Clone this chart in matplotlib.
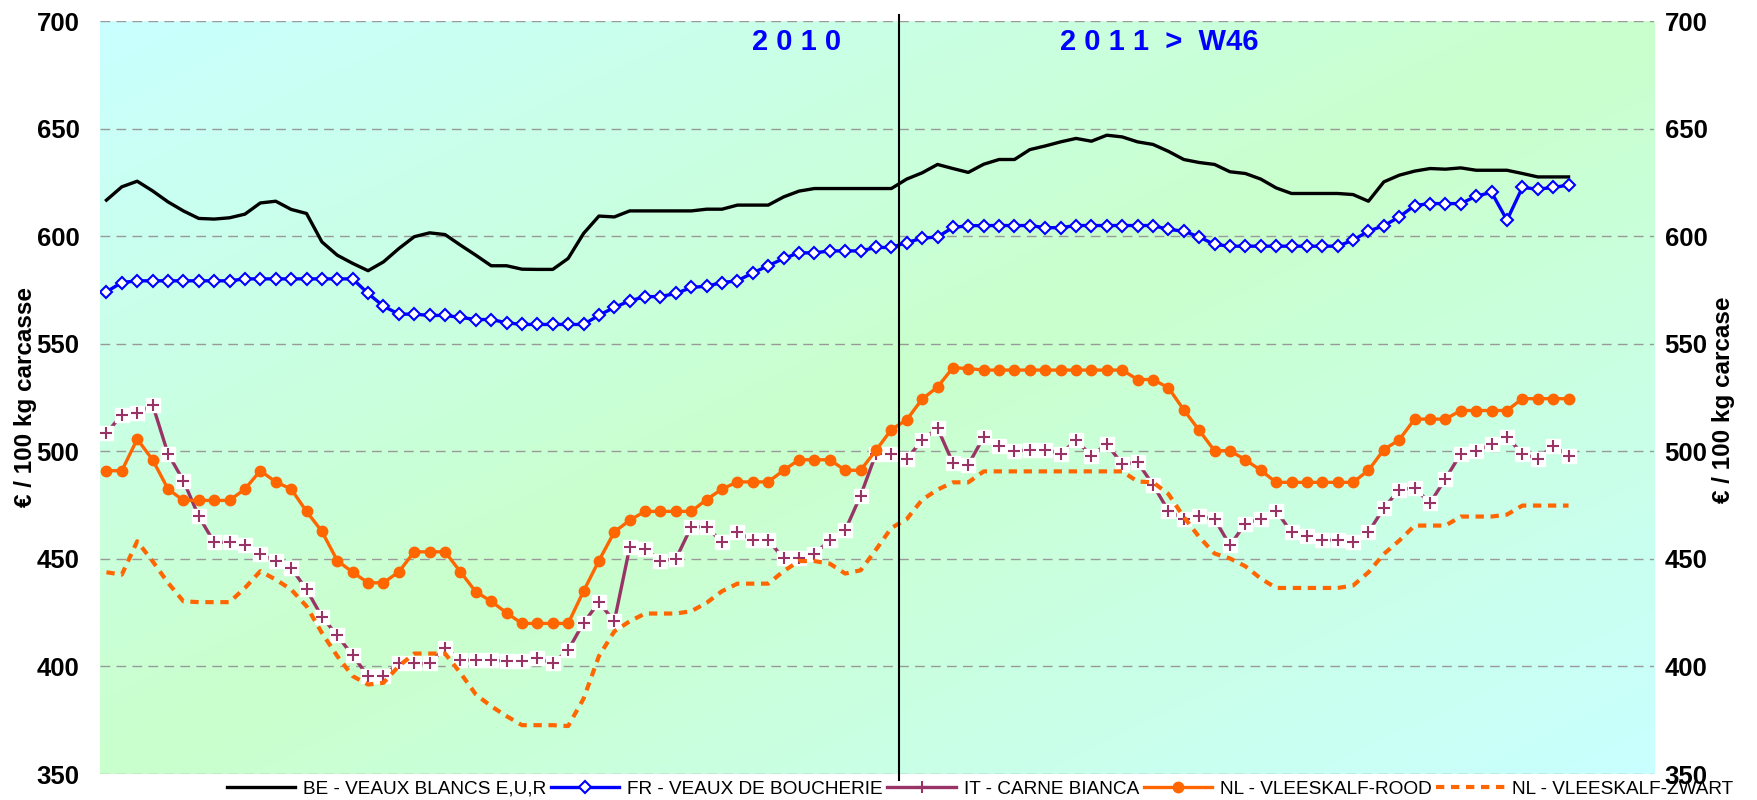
import numpy as np
import matplotlib.pyplot as plt
from matplotlib.lines import Line2D

plt.rcParams['font.family'] = ['Liberation Sans', 'DejaVu Sans']

# weekly prices, 2010 W1 .. 2011 (52 + 44 weeks), EUR / 100 kg carcass
be_veaux_blancs = [
    616.8, 623.0, 625.6, 621.1, 616.0, 611.8, 608.3, 608.0, 608.6, 610.3,
    615.5, 616.3, 612.5, 610.6, 597.4, 591.2, 587.4, 584.0, 588.1, 594.3,
    599.8, 601.6, 600.8, 595.9, 591.2, 586.3, 586.3, 584.7, 584.6, 584.6,
    589.7, 601.3, 609.4, 609.0, 611.8, 611.8, 611.8, 611.8, 611.8, 612.6,
    612.6, 614.5, 614.5, 614.5, 618.3, 621.0, 622.2, 622.2, 622.2, 622.2,
    622.2, 622.2, 626.6, 629.5, 633.4, 631.5, 629.7, 633.5, 635.7, 635.7,
    640.3, 642.0, 643.9, 645.5, 644.2, 647.0, 646.2, 643.9, 642.7, 639.5,
    635.7, 634.3, 633.4, 630.0, 629.2, 626.6, 622.5, 619.9, 619.9, 619.9,
    619.9, 619.4, 616.3, 625.3, 628.4, 630.3, 631.5, 631.2, 631.8, 630.7,
    630.7, 630.7, 629.2, 627.6, 627.6, 627.6]

fr_veaux_boucherie = [
    574.2, 578.5, 579.3, 579.3, 579.3, 579.3, 579.3, 579.3, 579.3, 580.2,
    580.2, 580.2, 580.2, 580.2, 580.2, 580.2, 580.2, 573.4, 567.5, 563.8,
    563.8, 563.2, 563.2, 562.3, 561.3, 561.3, 559.8, 559.0, 559.0, 559.0,
    559.0, 559.0, 563.3, 566.9, 570.0, 571.9, 572.0, 573.4, 576.2, 576.8,
    578.5, 579.3, 583.0, 586.3, 589.7, 592.3, 592.3, 593.2, 593.2, 593.2,
    594.8, 594.8, 597.1, 599.1, 599.7, 604.1, 604.9, 605.0, 605.0, 605.0,
    605.0, 604.0, 604.0, 605.0, 605.0, 605.0, 605.0, 605.0, 605.0, 603.2,
    602.4, 599.7, 596.2, 595.4, 595.4, 595.4, 595.4, 595.4, 595.4, 595.4,
    595.4, 598.2, 602.4, 604.9, 609.0, 614.3, 615.2, 615.2, 615.2, 618.7,
    620.4, 607.5, 622.7, 621.9, 622.7, 623.8]

it_carne_bianca = [
    508.5, 517.0, 517.8, 521.7, 498.9, 486.4, 469.8, 457.7, 457.7, 456.3,
    452.2, 449.2, 445.8, 435.8, 423.1, 414.4, 405.1, 395.5, 395.5, 401.4,
    401.4, 401.4, 408.7, 402.9, 402.9, 402.9, 402.5, 402.5, 404.0, 401.4,
    407.6, 420.3, 429.8, 421.0, 455.4, 454.6, 449.2, 450.0, 464.9, 464.9,
    457.7, 462.4, 458.7, 458.7, 450.2, 450.2, 452.3, 458.7, 463.3, 479.4,
    498.9, 498.9, 496.6, 505.1, 510.8, 494.6, 493.8, 506.7, 502.3, 500.0,
    500.8, 500.8, 498.9, 505.1, 498.0, 503.4, 494.1, 494.9, 484.5, 472.4,
    468.7, 469.8, 468.6, 456.3, 466.4, 468.7, 472.4, 462.4, 460.5, 458.7,
    458.7, 457.7, 462.4, 473.7, 482.2, 483.0, 476.0, 487.2, 498.9, 500.0,
    503.4, 506.7, 498.9, 496.6, 502.6, 498.0]

nl_vleeskalf_rood = [
    491.0, 491.0, 505.7, 496.1, 482.5, 477.2, 477.2, 477.2, 477.2, 482.5,
    491.0, 485.8, 482.5, 472.1, 462.8, 449.2, 443.8, 438.9, 438.9, 444.0,
    453.3, 453.3, 453.3, 444.0, 434.7, 430.3, 424.9, 420.0, 420.0, 420.0,
    420.0, 435.0, 449.2, 462.5, 468.0, 472.1, 472.1, 472.1, 472.1, 477.6,
    482.5, 485.8, 485.8, 485.8, 491.2, 496.1, 496.1, 496.1, 491.2, 491.2,
    500.5, 510.1, 514.7, 524.3, 529.9, 538.9, 538.5, 537.8, 537.8, 537.8,
    537.8, 537.8, 537.8, 537.8, 537.8, 537.8, 537.8, 533.4, 533.4, 529.6,
    519.3, 509.8, 500.3, 500.3, 496.1, 491.2, 485.6, 485.6, 485.6, 485.6,
    485.6, 485.6, 491.2, 500.8, 505.4, 515.0, 515.0, 515.0, 519.0, 519.0,
    519.0, 519.0, 524.5, 524.5, 524.5, 524.5]

nl_vleeskalf_zwart = [
    443.8, 442.7, 458.2, 448.9, 438.9, 430.3, 429.9, 429.9, 429.9, 436.5,
    444.3, 440.4, 435.8, 428.0, 415.6, 404.8, 395.5, 391.6, 392.4, 400.2,
    406.0, 406.0, 406.0, 397.0, 387.0, 381.5, 376.9, 372.7, 372.7, 372.7,
    372.3, 385.0, 404.8, 416.3, 421.0, 424.6, 424.6, 424.6, 425.7, 429.6,
    435.0, 438.5, 438.5, 438.5, 444.3, 449.0, 449.0, 447.8, 443.2, 444.7,
    454.3, 464.4, 468.5, 477.5, 482.2, 485.6, 485.6, 490.7, 490.7, 490.7,
    490.7, 490.7, 490.7, 490.7, 490.7, 490.7, 490.7, 486.0, 485.6, 480.2,
    469.5, 460.2, 452.5, 450.2, 446.6, 440.9, 436.5, 436.5, 436.5, 436.5,
    436.5, 437.6, 443.8, 452.3, 458.5, 465.5, 465.5, 465.5, 469.7, 469.7,
    469.7, 470.6, 474.8, 474.8, 474.8, 474.8]

weeks_2010 = 52
year_labels = ['2 0 1 0', '2 0 1 1  >  W46']
names = ['BE - VEAUX BLANCS E,U,R', 'FR - VEAUX DE BOUCHERIE', 'IT - CARNE BIANCA',
         'NL - VLEESKALF-ROOD', 'NL - VLEESKALF-ZWART']
yticks = [350, 400, 450, 500, 550, 600, 650, 700]

x = np.arange(len(be_veaux_blancs))

fig = plt.figure(figsize=(17.58, 8), dpi=100)
ax = fig.add_axes([0.0566, 0.0325, 0.8843, 0.941])

# diagonal gradient background: cyan corners, pale green band
gx, gy = np.meshgrid(np.linspace(0, 1, 400), np.linspace(1, 0, 200))
t = np.abs(gx - gy)
bg = np.zeros(gx.shape + (3,))
bg[..., 0] = 0.79
bg[..., 1] = 1.0
bg[..., 2] = 0.80 + 0.20 * t
ax.imshow(bg, extent=[0, 1, 0, 1], transform=ax.transAxes, aspect='auto', zorder=-2)

purple = '#993366'
orange = '#FF6600'
blue = '#0000FF'
lw = 2.4
dash = (0, (2.0, 1.6))

ax.plot(x, be_veaux_blancs, color='black', lw=lw, zorder=3)
ax.plot(x, fr_veaux_boucherie, color=blue, lw=lw, marker='D', ms=6, mfc='white',
        mec=blue, mew=1.5, zorder=3)
ax.plot(x, it_carne_bianca, color=purple, lw=lw, zorder=3)
ax.plot(x, it_carne_bianca, ls='none', marker='s', ms=10, mfc='white', mec='white', zorder=3)
ax.plot(x, it_carne_bianca, ls='none', marker='+', ms=8, mew=1.5, color=purple, zorder=3)
ax.plot(x, nl_vleeskalf_rood, color=orange, lw=lw, marker='o', ms=7.5, mfc=orange,
        mec=orange, zorder=4)
ax.plot(x, nl_vleeskalf_zwart, color=orange, lw=3.0, ls=dash, zorder=4)

ax.axvline(weeks_2010 - 0.5, ymin=-0.008, ymax=1.008, color='black', lw=1.5,
           clip_on=False, zorder=6)

ax.set_xlim(-0.45, 100.56)
ax.set_ylim(350, 700)
ax.set_xticks([])
ax.set_yticks(yticks, labels=[str(v) for v in yticks], fontweight='bold')
ax.tick_params(axis='y', length=0, labelsize=18.5, pad=14.4)
ax.yaxis.grid(True, color='#999999', lw=1, ls=(0, (7, 4.5)))
ax.set_axisbelow(True)
for s in ax.spines.values():
    s.set_visible(False)

# right-hand scale, placed a little closer to the plot
ax2 = ax.twinx()
ax2.set_ylim(350, 700)
ax2.set_yticks(yticks, labels=[str(v) for v in yticks], fontweight='bold')
ax2.tick_params(axis='y', length=0, labelsize=18.5, pad=7.5)
for s in ax2.spines.values():
    s.set_visible(False)

ax.text(0.4487, 0.972, year_labels[0], transform=ax.transAxes, ha='center', va='center',
        fontsize=21, fontweight='bold', color=blue)
ax.text(0.6816, 0.972, year_labels[1], transform=ax.transAxes, ha='center', va='center',
        fontsize=21, fontweight='bold', color=blue)

fig.text(26 / 1758, 1 - 397 / 800, '€ / 100 kg carcasse', rotation=90, ha='center',
         va='center', fontsize=17.5, fontweight='bold')
fig.text(1724 / 1758, 1 - 400 / 800, '€ / 100 kg carcase', rotation=90, ha='center',
         va='center', fontsize=17.5, fontweight='bold')

handles = [
    Line2D([], [], color='black', lw=lw),
    Line2D([], [], color=blue, lw=lw, marker='D', ms=6, mfc='white', mec=blue, mew=1.5),
    Line2D([], [], color=purple, lw=lw, marker='+', ms=8, mew=1.5),
    Line2D([], [], color=orange, lw=lw, marker='o', ms=7.5),
    Line2D([], [], color=orange, lw=3.0, ls=dash),
]
fig.legend(handles, names, loc='center', bbox_to_anchor=(0.5575, 0.0135), ncol=5,
           frameon=False, fontsize=13.7, handlelength=3.6, handletextpad=0.4,
           columnspacing=0.25, borderpad=0)

fig.savefig('out.png', dpi=100)
